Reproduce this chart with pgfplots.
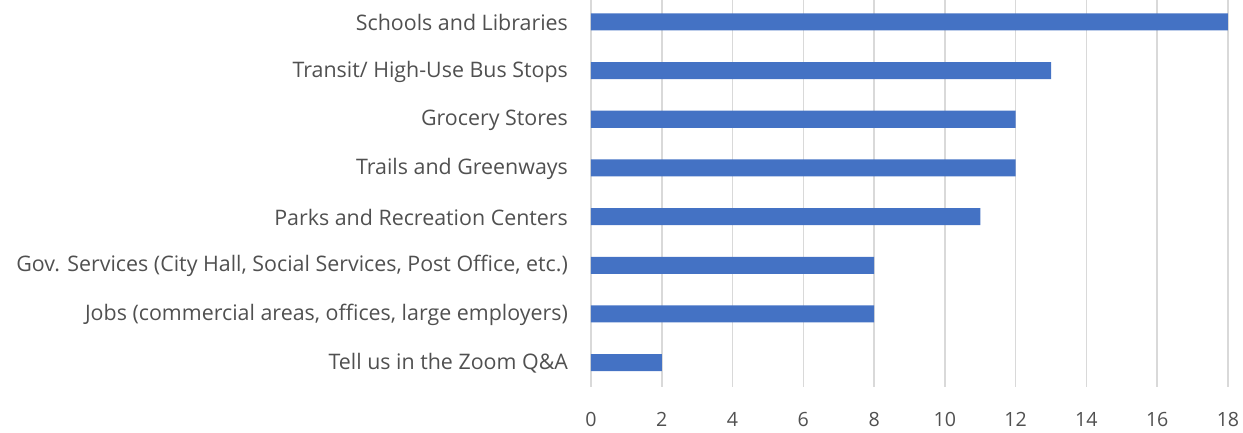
\documentclass[border=0pt]{standalone}
\usepackage{pgfplots}
\pgfplotsset{compat=1.18}
\usepackage{fontspec}
\setmainfont{Open Sans}
\definecolor{barblue}{HTML}{4472C4}
\definecolor{txtgray}{HTML}{505050}
\definecolor{gridgray}{HTML}{D9D9D9}
\begin{document}
\begin{tikzpicture}
\path[use as bounding box] (-295.5pt,-23pt) rectangle (326pt,193.5pt);
\begin{axis}[
  at={(0,0)}, anchor=south west,
  scale only axis,
  width=318.5pt, height=193.5pt,
  xmin=0, xmax=18,
  ymin=-0.5, ymax=7.45,
  xtick={0,2,...,18},
  ytick={0,...,7},
  yticklabels={Tell us in the Zoom Q\&A,
    {Jobs (commercial areas, offices, large employers)},
    {Gov. Services (City Hall, Social Services, Post Office, etc.)},
    Parks and Recreation Centers,
    Trails and Greenways,
    Grocery Stores,
    Transit/ High-Use Bus Stops,
    Schools and Libraries},
  xmajorgrids,
  grid style={gridgray, line width=0.8pt},
  axis line style={draw=none},
  major tick length=0pt,
  /pgf/number format/assume math mode=true,
  tick label style={text=txtgray},
  yticklabel style={font=\fontsize{10.7}{12}\selectfont, xshift=-8pt, yshift=-0.5pt},
  xticklabel style={font=\fontsize{9.8}{12}\selectfont, yshift=-9pt},
  clip=false,
]
\addplot[xbar, bar width=0.35, fill=barblue, draw=none] coordinates {
  (2,0) (8,1) (8,2) (11,3) (12,4) (12,5) (13,6) (18,7)
};
\end{axis}
\end{tikzpicture}
\end{document}
